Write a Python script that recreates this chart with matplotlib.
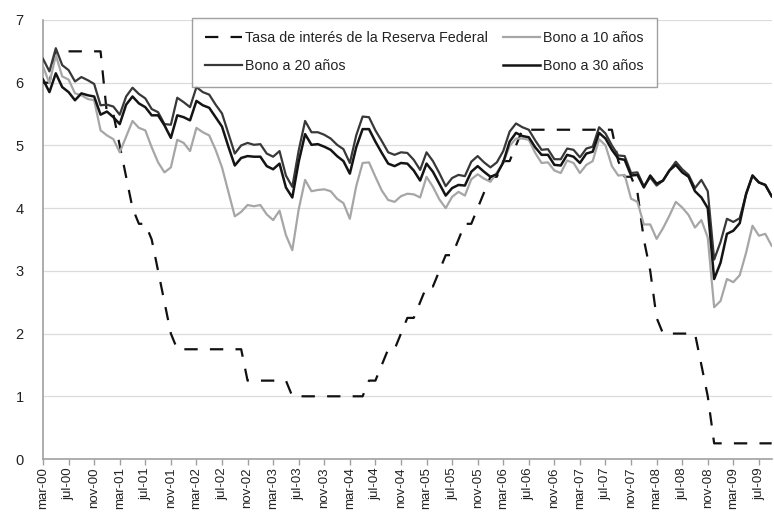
import matplotlib
matplotlib.use("Agg")
import matplotlib.pyplot as plt

plt.rcParams['font.family'] = ['Liberation Sans', 'DejaVu Sans']

# monthly data, mar-00 .. sep-09
fed_rate = [
    6.0, 6.0, 6.5, 6.5, 6.5, 6.5, 6.5, 6.5, 6.5, 6.5,
    5.5, 5.5, 5.0, 4.5, 4.0, 3.75, 3.75, 3.5, 3.0, 2.5, 2.0, 1.75,
    1.75, 1.75, 1.75, 1.75, 1.75, 1.75, 1.75, 1.75, 1.75, 1.75, 1.25, 1.25,
    1.25, 1.25, 1.25, 1.25, 1.25, 1.0, 1.0, 1.0, 1.0, 1.0, 1.0, 1.0,
    1.0, 1.0, 1.0, 1.0, 1.0, 1.25, 1.25, 1.5, 1.75, 1.75, 2.0, 2.25,
    2.25, 2.5, 2.75, 2.75, 3.0, 3.25, 3.25, 3.5, 3.75, 3.75, 4.0, 4.25,
    4.5, 4.5, 4.75, 4.75, 5.0, 5.25, 5.25, 5.25, 5.25, 5.25, 5.25, 5.25,
    5.25, 5.25, 5.25, 5.25, 5.25, 5.25, 5.25, 5.25, 4.75, 4.5, 4.5, 4.25,
    3.5, 3.0, 2.25, 2.0, 2.0, 2.0, 2.0, 2.0, 2.0, 1.5, 1.0, 0.25,
    0.25, 0.25, 0.25, 0.25, 0.25, 0.25, 0.25, 0.25, 0.25,
]

bond_10 = [
    6.26, 5.99, 6.44, 6.10, 6.05, 5.83, 5.80, 5.74, 5.72, 5.24,
    5.16, 5.10, 4.89, 5.14, 5.39, 5.28, 5.24, 4.97, 4.73, 4.57, 4.65, 5.09,
    5.04, 4.91, 5.28, 5.21, 5.16, 4.93, 4.65, 4.26, 3.87, 3.94, 4.05, 4.03,
    4.05, 3.90, 3.81, 3.96, 3.57, 3.33, 3.98, 4.45, 4.27, 4.29, 4.30, 4.27,
    4.15, 4.08, 3.83, 4.35, 4.72, 4.73, 4.50, 4.28, 4.13, 4.10, 4.19, 4.23,
    4.22, 4.17, 4.50, 4.34, 4.14, 4.00, 4.18, 4.26, 4.20, 4.46, 4.54, 4.47,
    4.42, 4.57, 4.72, 4.99, 5.11, 5.11, 5.09, 4.88, 4.72, 4.73, 4.60, 4.56,
    4.76, 4.72, 4.56, 4.69, 4.75, 5.10, 5.00, 4.67, 4.52, 4.53, 4.15, 4.10,
    3.74, 3.74, 3.51, 3.68, 3.88, 4.10, 4.01, 3.89, 3.69, 3.81, 3.53, 2.42,
    2.52, 2.87, 2.82, 2.93, 3.29, 3.72, 3.56, 3.59, 3.40,
]

bond_20 = [
    6.38, 6.18, 6.55, 6.28, 6.20, 6.02, 6.09, 6.04, 5.98, 5.64,
    5.65, 5.62, 5.49, 5.78, 5.92, 5.82, 5.75, 5.58, 5.53, 5.34, 5.33, 5.76,
    5.69, 5.61, 5.93, 5.85, 5.81, 5.65, 5.51, 5.19, 4.87, 5.00, 5.04, 5.01,
    5.02, 4.87, 4.82, 4.91, 4.52, 4.34, 4.92, 5.39, 5.21, 5.21, 5.17, 5.11,
    5.01, 4.94, 4.72, 5.16, 5.46, 5.45, 5.24, 5.07, 4.89, 4.85, 4.89, 4.88,
    4.77, 4.61, 4.89, 4.75, 4.56, 4.35, 4.48, 4.53, 4.51, 4.74, 4.83, 4.73,
    4.65, 4.73, 4.91, 5.22, 5.35, 5.29, 5.25, 5.08, 4.93, 4.94, 4.78, 4.78,
    4.95, 4.93, 4.81, 4.95, 4.98, 5.29, 5.19, 5.00, 4.84, 4.83, 4.56, 4.57,
    4.35, 4.49, 4.36, 4.44, 4.60, 4.74, 4.62, 4.53, 4.32, 4.45, 4.27, 3.18,
    3.46, 3.83, 3.78, 3.84, 4.22, 4.52, 4.41, 4.37, 4.19,
]

bond_30 = [
    6.05, 5.85, 6.15, 5.93, 5.85, 5.72, 5.83, 5.80, 5.78, 5.49,
    5.54, 5.45, 5.34, 5.65, 5.78, 5.67, 5.61, 5.48, 5.48, 5.32, 5.12, 5.48,
    5.45, 5.40, 5.71, 5.64, 5.60, 5.45, 5.30, 4.98, 4.68, 4.80, 4.83, 4.82,
    4.82, 4.67, 4.62, 4.71, 4.33, 4.17, 4.74, 5.18, 5.01, 5.02, 4.98, 4.93,
    4.83, 4.75, 4.55, 4.97, 5.26, 5.26, 5.06, 4.88, 4.71, 4.67, 4.72, 4.71,
    4.60, 4.44, 4.71, 4.58, 4.39, 4.20, 4.32, 4.37, 4.36, 4.58, 4.67, 4.58,
    4.50, 4.54, 4.73, 5.06, 5.20, 5.15, 5.13, 4.97, 4.85, 4.85, 4.69, 4.68,
    4.85, 4.82, 4.72, 4.87, 4.90, 5.20, 5.11, 4.93, 4.79, 4.77, 4.52, 4.53,
    4.33, 4.52, 4.39, 4.44, 4.60, 4.69, 4.57, 4.50, 4.27, 4.17, 4.00, 2.87,
    3.13, 3.59, 3.64, 3.76, 4.23, 4.52, 4.41, 4.37, 4.19,
]

tick_labels = [
    "mar-00", "jul-00", "nov-00", "mar-01", "jul-01", "nov-01",
    "mar-02", "jul-02", "nov-02", "mar-03", "jul-03", "nov-03",
    "mar-04", "jul-04", "nov-04", "mar-05", "jul-05", "nov-05",
    "mar-06", "jul-06", "nov-06", "mar-07", "jul-07", "nov-07",
    "mar-08", "jul-08", "nov-08", "mar-09", "jul-09",
]

x = list(range(len(bond_10)))

fig = plt.figure(figsize=(7.74, 5.15), dpi=100)
ax = fig.add_axes([0.0556, 0.1087, 0.9414, 0.8525])

l_fed, = ax.plot(x, fed_rate, color="#111111", lw=1.6, dashes=(6, 5.5),
                 label="Tasa de interés de la Reserva Federal", zorder=3)
l_10, = ax.plot(x, bond_10, color="#a6a6a6", lw=1.6,
                label="Bono a 10 años", zorder=4)
l_20, = ax.plot(x, bond_20, color="#383838", lw=1.6,
                label="Bono a 20 años", zorder=5)
l_30, = ax.plot(x, bond_30, color="#141414", lw=1.8,
                label="Bono a 30 años", zorder=6)

ax.set_xlim(0, len(x) - 1)
ax.set_ylim(0, 7)
ax.set_yticks(range(8))
ax.set_xticks(range(0, len(x), 4))
ax.set_xticklabels(tick_labels, rotation=90)

ax.grid(axis="y", color="#dcdcdc", lw=0.9)
ax.set_axisbelow(True)
for s in ["top", "right"]:
    ax.spines[s].set_visible(False)
for s in ["left", "bottom"]:
    ax.spines[s].set_color("#a0a0a0")
    ax.spines[s].set_linewidth(1.2)

ax.tick_params(axis="x", colors="#a0a0a0", length=4, width=1, labelcolor="#222222",
               labelsize=9.5, pad=2)
ax.tick_params(axis="y", length=0, labelcolor="#222222", labelsize=10.5, pad=14)

leg = ax.legend(handles=[l_fed, l_20, l_10, l_30], ncol=2,
                loc="upper left", bbox_to_anchor=(0.204, 1.005, 0.639, 0),
                mode="expand", borderaxespad=0, fancybox=False,
                fontsize=10.3, handlelength=2.6, handletextpad=0.2,
                labelspacing=0.95, borderpad=0.95)
leg.get_frame().set_edgecolor("#888888")
leg.get_frame().set_linewidth(1.0)
for t in leg.get_texts():
    t.set_color("#222222")

fig.savefig("out.png", dpi=100)
